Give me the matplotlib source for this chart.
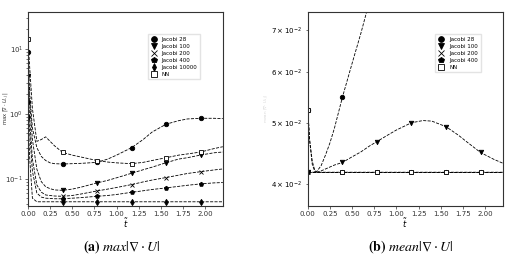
import matplotlib
matplotlib.use('Agg')
import matplotlib.pyplot as plt
import numpy as np

plt.rcParams['mathtext.fontset'] = 'dejavusans'

# panel (a): max |div U|
t_a = [0, 0.02, 0.05, 0.1, 0.15, 0.2, 0.25, 0.3, 0.39, 0.5, 0.6, 0.78, 0.9, 1.0,
       1.17, 1.3, 1.4, 1.56, 1.7, 1.8, 1.95, 2.1, 2.2]
max_j28 = [9, 2.0, 0.6, 0.3, 0.22, 0.19, 0.175, 0.17, 0.168, 0.17, 0.172, 0.178, 0.2,
           0.23, 0.30, 0.40, 0.52, 0.69, 0.78, 0.83, 0.85, 0.85, 0.84]
max_j100 = [3.8, 1.5, 0.4, 0.14, 0.09, 0.075, 0.07, 0.067, 0.066, 0.069, 0.074, 0.086,
            0.094, 0.103, 0.121, 0.137, 0.15, 0.176, 0.2, 0.21, 0.231, 0.25, 0.257]
max_j200 = [2.5, 0.8, 0.2, 0.08, 0.062, 0.056, 0.055, 0.054, 0.0535, 0.055, 0.058,
            0.0646, 0.069, 0.073, 0.081, 0.089, 0.095, 0.104, 0.113, 0.12, 0.128, 0.136, 0.141]
max_j400 = [1.5, 0.5, 0.13, 0.06, 0.052, 0.05, 0.0495, 0.049, 0.049, 0.05, 0.051, 0.0535,
            0.055, 0.057, 0.0616, 0.065, 0.068, 0.072, 0.076, 0.079, 0.083, 0.086, 0.087]
max_j10000 = [0.9, 0.2, 0.05, 0.044, 0.044, 0.044, 0.044, 0.044, 0.044, 0.044, 0.044, 0.044,
              0.044, 0.044, 0.044, 0.044, 0.044, 0.044, 0.044, 0.044, 0.044, 0.044, 0.044]
max_nn = [14, 5, 1.2, 0.375, 0.4, 0.44, 0.375, 0.32, 0.254, 0.23, 0.215, 0.19, 0.18, 0.175,
          0.17, 0.178, 0.19, 0.21, 0.23, 0.24, 0.257, 0.29, 0.31]

# panel (b): mean |div U|
t_b = [0, 0.02, 0.05, 0.08, 0.1, 0.15, 0.2, 0.25, 0.3, 0.39, 0.5, 0.6, 0.7, 0.78, 0.9, 1.0,
       1.17, 1.3, 1.4, 1.56, 1.7, 1.8, 1.95, 2.1, 2.2]
t_b28 = [0, 0.02, 0.05, 0.08, 0.1, 0.15, 0.2, 0.25, 0.3, 0.39, 0.5, 0.6, 0.7, 0.78]
mean_j28 = [0.0524, 0.047, 0.0435, 0.042, 0.0419, 0.0428, 0.0445, 0.0465, 0.049, 0.0548,
            0.062, 0.0692, 0.078, 0.085]
mean_j100 = [0.0418, 0.0418, 0.0418, 0.0418, 0.0418, 0.042, 0.0423, 0.0426, 0.0429, 0.0433,
             0.0442, 0.045, 0.046, 0.0467, 0.0478, 0.0487, 0.050, 0.0504, 0.0503, 0.0493,
             0.0478, 0.0466, 0.0449, 0.0438, 0.0432]
mean_j200 = [0.0418] * 25
mean_j400 = [0.0418] * 25
mean_nn = [0.0524, 0.047, 0.043, 0.0419, 0.0418, 0.0418, 0.0418, 0.0418, 0.0418, 0.0418,
           0.0418, 0.0418, 0.0418, 0.0418, 0.0418, 0.0418, 0.0418, 0.0418, 0.0418, 0.0418,
           0.0418, 0.0418, 0.0418, 0.0418, 0.0418]

mark_t = [0, 0.39, 0.78, 1.17, 1.56, 1.95]
xticks = [0, 0.25, 0.5, 0.75, 1.0, 1.25, 1.5, 1.75, 2.0]


def draw(ax, t, y, marker, label, face='k'):
    t = np.array(t)
    idx = list(np.where(np.isin(np.round(t, 2), mark_t))[0])
    ax.plot(t, y, ls='--', color='k', lw=0.6, marker=marker, markevery=idx,
            ms=3.2, mfc=face, mec='k', mew=0.6, label=label)


fig = plt.figure(figsize=(5.28, 2.64), dpi=100)
ax1 = fig.add_axes([0.053, 0.22, 0.369, 0.735])
ax2 = fig.add_axes([0.583, 0.22, 0.369, 0.735])

draw(ax1, t_a, max_j28, 'o', 'Jacobi 28')
draw(ax1, t_a, max_j100, 'v', 'Jacobi 100')
draw(ax1, t_a, max_j200, 'x', 'Jacobi 200')
draw(ax1, t_a, max_j400, 'p', 'Jacobi 400')
draw(ax1, t_a, max_j10000, 'd', 'Jacobi 10000')
draw(ax1, t_a, max_nn, 's', 'NN', face='white')
ax1.set_yscale('log')
ax1.set_ylim(0.038, 37)
ax1.set_ylabel(r'max $|\nabla\cdot U_{i,j}|$', fontsize=3.8, color='#333333')
ax1.yaxis.set_label_coords(-0.088, 0.5)

draw(ax2, t_b28, mean_j28, 'o', 'Jacobi 28')
draw(ax2, t_b, mean_j100, 'v', 'Jacobi 100')
draw(ax2, t_b, mean_j200, 'x', 'Jacobi 200')
draw(ax2, t_b, mean_j400, 'p', 'Jacobi 400')
draw(ax2, t_b, mean_nn, 's', 'NN', face='white')
ax2.set_yscale('log')
ax2.set_ylim(0.037, 0.0747)
ax2.set_ylabel(r'mean $|\nabla\cdot U_{i,j}|$', fontsize=3, color='#d8d8d8')
ax2.yaxis.set_label_coords(-0.19, 0.5)

for ax, anchor in [(ax1, (0.6, 0.9)), (ax2, (0.64, 0.9))]:
    ax.set_xlim(0, 2.2)
    ax.set_xticks(xticks)
    ax.set_xticklabels([f'{v:.2f}' for v in xticks])
    ax.set_xlabel(r'$\tilde{t}$', fontsize=6, labelpad=0)
    ax.tick_params(labelsize=5, length=2, width=0.5, pad=1.5, colors='#333333')
    ax.tick_params(which='minor', length=1.2, width=0.4, labelsize=5)
    for s in ax.spines.values():
        s.set_linewidth(0.8)
        s.set_color('#333333')
    ax.legend(loc='upper left', bbox_to_anchor=anchor, fontsize=4, frameon=True,
              fancybox=False, edgecolor='#dddddd', borderpad=0.5, labelspacing=0.35,
              handlelength=1.2, handletextpad=0.8, markerscale=1.3)
    for h in ax.get_legend().legend_handles:
        h.set_linestyle('')

fig.text(0.231, 0.052, r'$\mathbf{(a)}\ \mathit{max}|\nabla\cdot U|$', ha='center',
         fontsize=10, math_fontfamily='stix')
fig.text(0.778, 0.052, r'$\mathbf{(b)}\ \mathit{mean}|\nabla\cdot U|$', ha='center',
         fontsize=10, math_fontfamily='stix')

fig.savefig('out.png', dpi=100)
